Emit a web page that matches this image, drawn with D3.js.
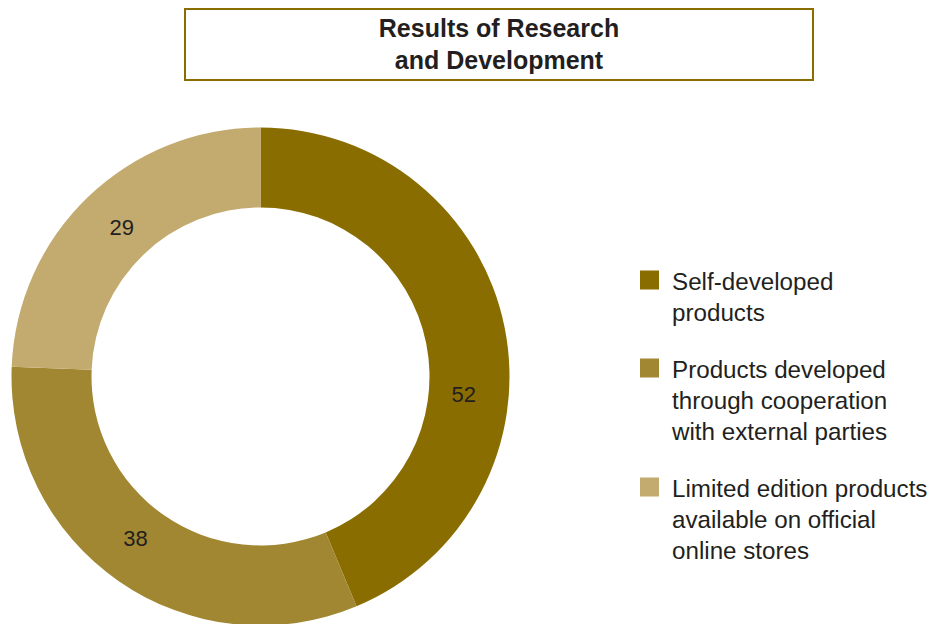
<!DOCTYPE html>
<html>
<head>
<meta charset="utf-8">
<script src="https://cdn.jsdelivr.net/npm/d3@7"></script>
<style>
  html, body { margin: 0; padding: 0; background: #fff; }
  svg { display: block; font-family: "Liberation Sans", Arial, Helvetica, sans-serif; }
</style>
</head>
<body>
<svg id="chart" width="935" height="624"></svg>
<script>
// R&D output by product type
const categories = [
  "Self-developed products",
  "Products developed through cooperation with external parties",
  "Limited edition products available on official online stores"
];
const values = [52, 38, 29];
const legendLines = [
  ["Self-developed", "products"],
  ["Products developed", "through cooperation", "with external parties"],
  ["Limited edition products", "available on official", "online stores"]
];
const titleLines = ["Results of Research", "and Development"];
const colors = ["#8a6d00", "#a18731", "#c3ab6f"];

const W = 935, H = 624;
const svg = d3.select("#chart");
const textColor = "#231f20";

// Title box
const box = { x: 185, y: 9, w: 628, h: 71 };
svg.append("rect")
  .attr("x", box.x).attr("y", box.y)
  .attr("width", box.w).attr("height", box.h)
  .attr("fill", "#fff")
  .attr("stroke", "#8a6d00")
  .attr("stroke-width", 2);

svg.append("g").selectAll("text")
  .data(titleLines)
  .join("text")
  .attr("x", box.x + box.w / 2)
  .attr("y", (d, i) => 37 + i * 32)
  .attr("text-anchor", "middle")
  .attr("font-size", 25)
  .attr("font-weight", "bold")
  .attr("fill", textColor)
  .text(d => d);

// Donut
const cx = 260.5, cy = 376.5;
const outerR = 249, innerR = 169;
const color = d3.scaleOrdinal().domain(categories).range(colors);

const pie = d3.pie().sort(null).value(d => d.value);
const arcs = pie(categories.map((c, i) => ({ category: c, value: values[i] })));
const arc = d3.arc().innerRadius(innerR).outerRadius(outerR);

const g = svg.append("g").attr("transform", `translate(${cx},${cy})`);
g.selectAll("path")
  .data(arcs)
  .join("path")
  .attr("d", arc)
  .attr("fill", d => color(d.data.category));

// Value labels, placed along the ring (small angular nudge per slice)
const labelR = 204;
const labelNudge = [16.3, 3, 1].map(deg => deg * Math.PI / 180);
g.selectAll("text")
  .data(arcs)
  .join("text")
  .attr("transform", (d, i) => {
    const a = (d.startAngle + d.endAngle) / 2 + labelNudge[i];
    return `translate(${labelR * Math.sin(a)},${-labelR * Math.cos(a)})`;
  })
  .attr("text-anchor", "middle")
  .attr("dy", "0.36em")
  .attr("font-size", 22)
  .attr("fill", textColor)
  .text(d => d.data.value);

// Legend
const legendX = 640, sq = 19, lineH = 31, itemGap = 26;
let yTop = 270.5;
const legend = svg.append("g");
categories.forEach((c, i) => {
  const item = legend.append("g").attr("transform", `translate(${legendX},${yTop})`);
  item.append("rect")
    .attr("width", sq).attr("height", sq)
    .attr("fill", color(c));
  item.selectAll("text")
    .data(legendLines[i])
    .join("text")
    .attr("x", 32)
    .attr("y", (d, j) => sq + j * lineH)
    .attr("font-size", 24.2)
    .attr("fill", textColor)
    .text(d => d);
  yTop += legendLines[i].length * lineH + itemGap;
});
</script>
</body>
</html>
